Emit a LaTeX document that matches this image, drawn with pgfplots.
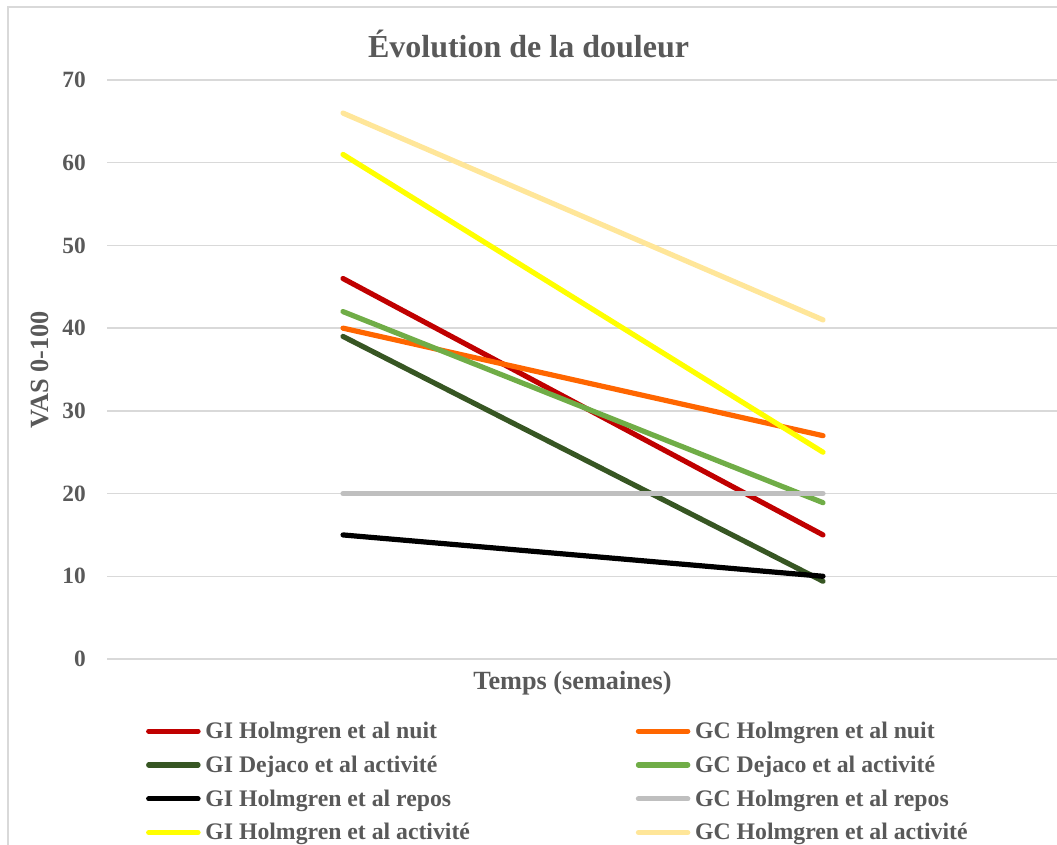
\documentclass[border=0pt]{standalone}
\usepackage{fontspec}
\setmainfont{Liberation Serif}
\usepackage{pgfplots}
\pgfplotsset{compat=1.18}

\definecolor{txt}{HTML}{595959}
\definecolor{gridc}{HTML}{D9D9D9}
\definecolor{ginuit}{HTML}{C00000}
\definecolor{gcnuit}{HTML}{FF6600}
\definecolor{gidej}{HTML}{375623}
\definecolor{gcdej}{HTML}{70AD47}
\definecolor{girep}{HTML}{000000}
\definecolor{gcrep}{HTML}{BFBFBF}
\definecolor{giact}{HTML}{FFFF00}
\definecolor{gcact}{HTML}{FFE699}

\begin{document}
\begin{tikzpicture}
\useasboundingbox (0,0) rectangle (792.75pt,-633.75pt);
% cadre du graphique
\draw[gridc, line width=1.5pt] (6pt,-640pt) -- (6pt,-5.25pt) -- (800pt,-5.25pt);
\node[anchor=base, text=txt, font=\bfseries\fontsize{24}{28}\selectfont] at (396.4pt,-43.5pt) {Évolution de la douleur};
\begin{axis}[
  at={(80.25pt,-494.25pt)}, anchor=south west,
  scale only axis, width=712.5pt, height=434.25pt,
  xmin=-0.4917, xmax=1.4875, ymin=0, ymax=70,
  ytick={0,10,...,70}, xtick=\empty,
  ymajorgrids, grid style={gridc, line width=1pt},
  axis line style={draw=none}, major tick length=0pt,
  /pgf/number format/assume math mode=true,
  yticklabel style={font=\bfseries\fontsize{17.5}{20}\selectfont, text=txt, anchor=east, inner sep=0pt, xshift=-15.75pt},
  xlabel={Temps (semaines)},
  xlabel style={at={(axis description cs:0.49,-0.0535)}, anchor=base, font=\bfseries\fontsize{19.7}{22}\selectfont, text=txt},
  ylabel={VAS 0-100},
  ylabel style={at={(axis description cs:-0.0705,0.5)}, anchor=center, font=\bfseries\fontsize{19.7}{22}\selectfont, text=txt},
  legend columns=2, legend cell align=left,
  legend image code/.code={\draw[#1, line cap=round] (0pt,0pt) -- (37pt,0pt);},
  legend style={at={(axis description cs:0.0409,-0.1036)}, anchor=north west,
    draw=none, fill=none, inner xsep=0pt, inner ysep=0pt,
    font=\bfseries\fontsize{17.8}{20}\selectfont, text=txt, row sep=7.5pt,
    /tikz/column 1/.style={column sep=1.6pt},
    /tikz/column 2/.style={column sep=122.4pt},
    /tikz/column 3/.style={column sep=1.6pt}},
  every axis plot/.append style={line width=3.9pt, line cap=round, no marks},
]
\addplot[ginuit] coordinates {(0,46) (1,15)};
\addlegendentry{GI Holmgren et al nuit}
\addplot[gcnuit] coordinates {(0,40) (1,27)};
\addlegendentry{GC Holmgren et al nuit}
\addplot[gidej] coordinates {(0,39) (1,9.4)};
\addlegendentry{GI Dejaco et al activité}
\addplot[gcdej] coordinates {(0,42) (1,18.9)};
\addlegendentry{GC Dejaco et al activité}
\addplot[girep] coordinates {(0,15) (1,10)};
\addlegendentry{GI Holmgren et al repos}
\addplot[gcrep] coordinates {(0,20) (1,20)};
\addlegendentry{GC Holmgren et al repos}
\addplot[giact] coordinates {(0,61) (1,25)};
\addlegendentry{GI Holmgren et al activité}
\addplot[gcact] coordinates {(0,66) (1,41)};
\addlegendentry{GC Holmgren et al activité}
\end{axis}
\end{tikzpicture}
\end{document}
